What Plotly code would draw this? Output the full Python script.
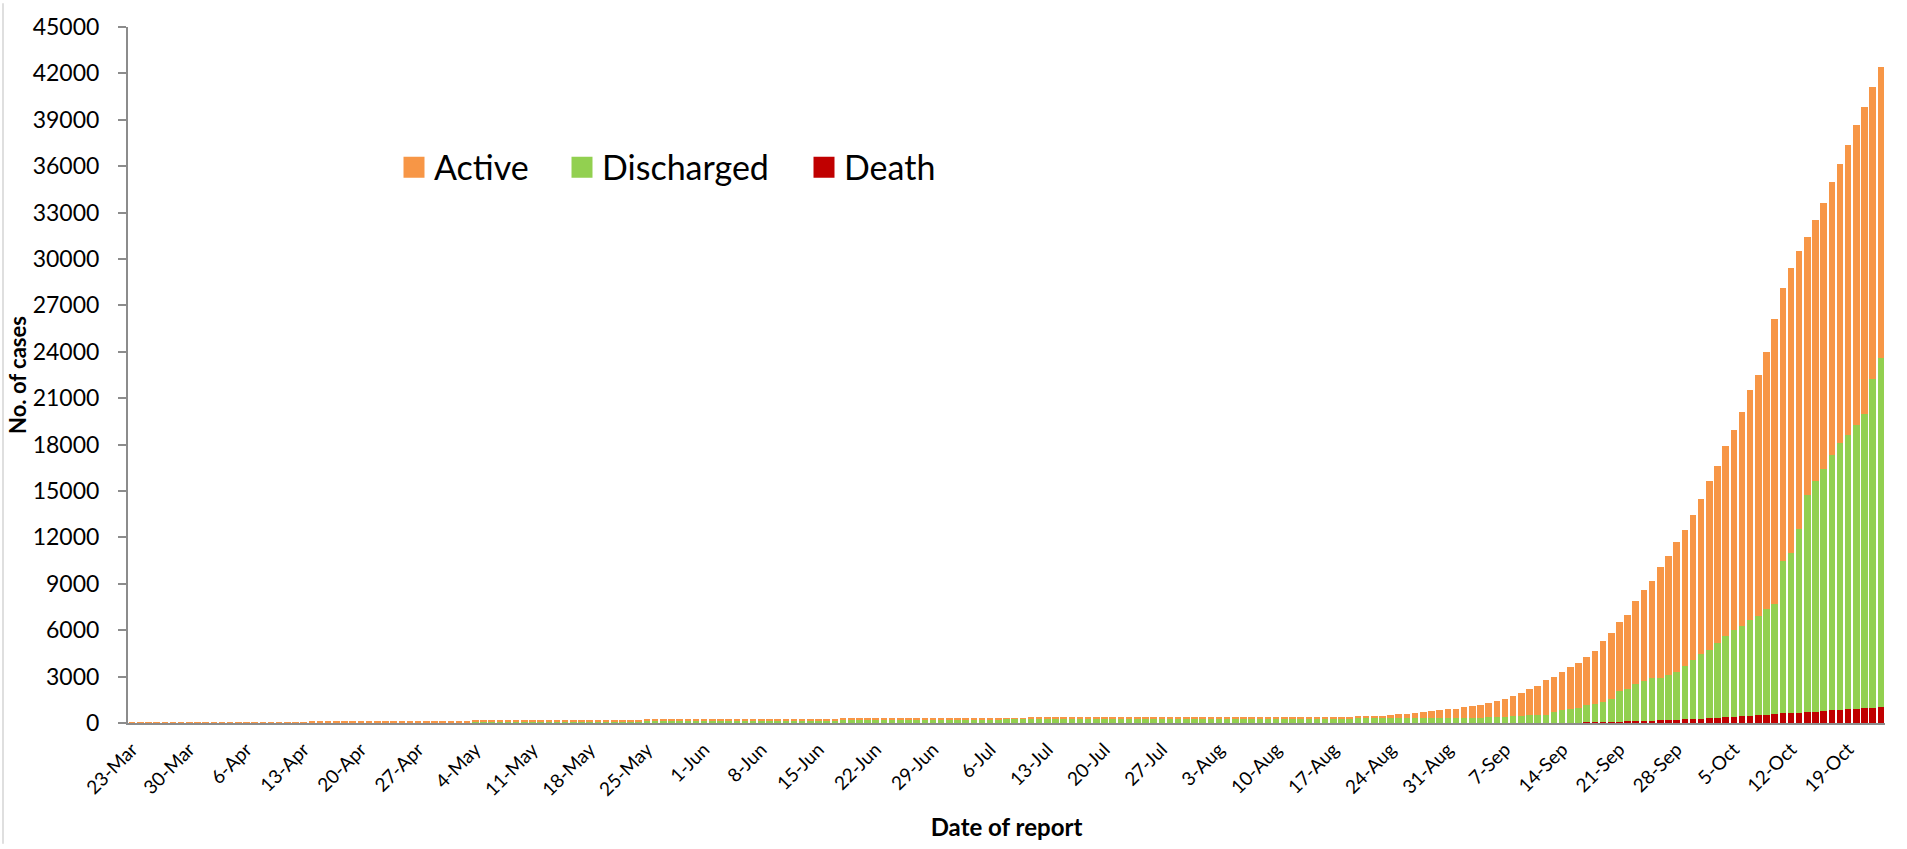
import plotly.graph_objects as go
import pandas as pd

# ---- categories (one bar per day of report) ----
dates = pd.date_range("2020-03-23", "2020-10-23", freq="D")
categories = [f"{d.day}-{d.strftime('%b')}" for d in dates]

tick_labels = ["23-Mar", "30-Mar", "6-Apr", "13-Apr", "20-Apr", "27-Apr", "4-May",
               "11-May", "18-May", "25-May", "1-Jun", "8-Jun", "15-Jun", "22-Jun",
               "29-Jun", "6-Jul", "13-Jul", "20-Jul", "27-Jul", "3-Aug", "10-Aug",
               "17-Aug", "24-Aug", "31-Aug", "7-Sep", "14-Sep", "21-Sep", "28-Sep",
               "5-Oct", "12-Oct", "19-Oct"]

# ---- series values (cases) ----
active = [
    2, 3, 3, 5, 8, 10, 10, 14, 14,
    14, 19, 19, 20, 21, 19, 19, 17, 18, 21, 22, 35, 56, 67, 78, 81, 88, 101, 99, 99,
    107, 106, 112, 121, 122, 122, 119, 119, 115, 108,
    103, 101, 100, 95, 89, 85, 92, 94, 91, 88, 86, 82, 79, 78, 76, 74, 74, 75, 77, 77,
    81, 79, 78, 75, 74, 74, 70, 68, 82, 84, 83,
    81, 84, 85, 82, 84, 86, 86, 84, 84, 84, 91, 87, 83, 81, 78, 74, 71, 67, 72, 82,
    78, 74, 75, 72, 69, 66, 62, 62, 61, 61,
    60, 58, 61, 62, 63, 62, 60, 58, 56, 58, 60, 62, 61, 61, 60, 61, 60, 59, 57, 55,
    54, 53, 51, 51, 50, 51, 52, 51, 51, 52, 51,
    50, 49, 52, 51, 50, 51, 50, 49, 49, 48, 47, 47, 46, 48, 49, 56, 56, 64, 78, 83,
    99, 120, 146, 194, 241, 275, 320, 360, 442, 467, 535,
    552, 654, 716, 799, 922, 1062, 1196, 1347, 1496, 1710, 1902, 2244, 2287, 2470, 2720,
    2930, 3155, 3375, 3954, 4295, 4468, 4782, 5339, 5878, 6302, 7164, 7718, 8416, 8801, 9397,
    10000, 10916, 11455, 12307, 12923, 13813, 14853, 15592, 16658, 18448, 17617, 18419,
    17995, 16726, 16894, 17230, 17658, 18074, 18716, 19415, 19860, 18878, 18832,
]

discharged = [
    0, 0, 0, 0, 0, 0, 0, 0, 0,
    0, 0, 0, 0, 0, 2, 2, 2, 2, 2, 2, 2, 2, 3, 3, 3, 5, 5, 7, 7,
    7, 10, 10, 13, 17, 19, 22, 25, 29, 37,
    42, 48, 55, 60, 66, 70, 73, 76, 80, 84, 88, 92, 96, 98, 100, 102, 104, 106, 108, 110,
    112, 114, 117, 120, 123, 126, 130, 133, 136, 138, 139,
    141, 143, 145, 148, 150, 152, 154, 156, 158, 160, 164, 168, 172, 175, 178, 182, 186,
    190, 194, 198, 203, 207, 210, 214, 218, 221, 225, 228, 232, 236,
    238, 240, 242, 245, 247, 249, 251, 253, 255, 257, 260, 263, 265, 267, 270, 272, 274,
    276, 278, 280, 282, 284, 286, 288, 290, 291, 292, 293, 294, 295, 296,
    297, 298, 299, 300, 301, 302, 303, 304, 305, 306, 307, 308, 309, 310, 311, 312, 313,
    314, 315, 317, 318, 320, 322, 324, 326, 328, 330, 333, 336, 338, 340,
    340, 342, 344, 347, 352, 360, 373, 415, 456, 477, 498, 517, 686, 807, 893,
    938, 1100, 1202, 1291, 1476, 1966, 2117, 2415, 2547, 2724, 2725, 2896, 3094, 3449, 3813,
    4197, 4404, 4847, 5247, 5601, 5832, 6162, 6403, 6807, 7102, 9878, 10366,
    11880, 14024, 14891, 15630, 16497, 17231, 17734, 18325, 19040, 21220, 22560,
]

death = [
    0, 0, 0, 0, 0, 0, 0, 0, 1,
    1, 1, 1, 1, 1, 1, 1, 3, 3, 4, 4, 4, 4, 4, 4, 4, 5, 5, 5, 5,
    5, 5, 5, 5, 5, 5, 5, 6, 6, 6,
    6, 6, 6, 6, 6, 6, 6, 6, 6, 6, 6, 6, 6, 6, 6, 6, 6, 6, 6, 6,
    6, 6, 6, 6, 6, 6, 6, 6, 6, 6, 6,
    6, 6, 6, 6, 6, 6, 6, 6, 6, 6, 6, 6, 6, 6, 6, 6, 6, 6, 6, 6,
    6, 6, 6, 6, 6, 6, 6, 6, 6, 6,
    6, 6, 6, 6, 6, 6, 6, 6, 6, 6, 6, 6, 6, 6, 6, 6, 6, 6, 6, 6,
    6, 6, 6, 6, 6, 6, 6, 6, 6, 6, 6,
    6, 6, 6, 6, 6, 6, 6, 6, 6, 6, 6, 6, 6, 6, 6, 6, 6, 6, 6, 6,
    6, 6, 6, 6, 6, 6, 7, 7, 7, 7, 7,
    8, 8, 8, 8, 8, 10, 12, 12, 14, 14, 15, 17, 19, 23, 27,
    32, 40, 48, 55, 62, 85, 107, 130, 145, 160, 175, 200, 220, 250, 270,
    290, 320, 345, 375, 405, 450, 485, 520, 545, 590, 615, 640,
    665, 700, 730, 780, 830, 865, 900, 925, 960, 1000, 1040,
]

series_names = ["Active", "Discharged", "Death"]
colors = {"Active": "#F79646", "Discharged": "#92D050", "Death": "#C00000"}

W, H = 1907, 849
ML, MR, MT, MB = 128, 22, 24, 122
FONT = "Lato"
pw = W - ML - MR
ph = H - MT - MB

fig = go.Figure()
# stacked bars: Death at bottom, Discharged, Active on top
for name, vals in [("Death", death), ("Discharged", discharged), ("Active", active)]:
    fig.add_trace(go.Bar(x=categories, y=vals, name=name,
                         marker=dict(color=colors[name], line=dict(width=0)),
                         showlegend=False))

# legend entries (square keys)
legend_ids = {"Active": "legend", "Discharged": "legend2", "Death": "legend3"}
for name in series_names:
    fig.add_trace(go.Scatter(x=[None], y=[None], mode="markers", name=name,
                             marker=dict(symbol="square", size=16, color=colors[name],
                                         line=dict(width=5, color=colors[name])),
                             legend=legend_ids[name], showlegend=True))

leg_common = dict(orientation="h", xref="paper", yref="paper",
                  xanchor="left", yanchor="middle", bgcolor="rgba(0,0,0,0)",
                  borderwidth=0,
                  font=dict(family=FONT, size=34, color="black"), itemsizing="trace")
leg_px = {"legend": 394, "legend2": 562, "legend3": 804}
leg_py = 166
leg_y = (H - MB - leg_py) / ph

fig.update_layout(
    width=W, height=H,
    margin=dict(l=ML, r=MR, t=MT, b=MB),
    paper_bgcolor="white", plot_bgcolor="white",
    barmode="stack", bargap=0.2,
    font=dict(family=FONT, color="black"),
    legend=dict(leg_common, x=(leg_px["legend"] - ML) / pw, y=leg_y),
    legend2=dict(leg_common, x=(leg_px["legend2"] - ML) / pw, y=leg_y),
    legend3=dict(leg_common, x=(leg_px["legend3"] - ML) / pw, y=leg_y),
    xaxis=dict(
        type="category", categoryorder="array", categoryarray=categories,
        tickmode="array", tickvals=tick_labels, ticktext=tick_labels,
        tickangle=-45, tickfont=dict(family=FONT, size=19, color="black"),
        ticks="", showline=True, linecolor="#8C8C8C", linewidth=2,
        showgrid=False, zeroline=False, ticklabelstandoff=6,
        title=dict(text="<b>Date of report</b>",
                   font=dict(family=FONT, size=24, color="black"), standoff=20),
    ),
    yaxis=dict(
        range=[0, 45000], dtick=3000, tick0=0, tickformat="d",
        ticks="outside", ticklen=8, tickwidth=2, tickcolor="#8C8C8C",
        showline=True, linecolor="#8C8C8C", linewidth=2,
        tickfont=dict(family=FONT, size=23, color="black"),
        ticklabelstandoff=14, showgrid=False, zeroline=False,
        title=dict(text="<b>No. of cases</b>",
                   font=dict(family=FONT, size=22, color="black"), standoff=0),
    ),
)

# thin chart-area border on the left edge
fig.add_shape(type="line", xref="paper", yref="paper",
              x0=(3 - ML) / pw, x1=(3 - ML) / pw, y0=-MB / ph, y1=(H - MB) / ph,
              line=dict(color="#BFBFBF", width=1))

# remove the browser's default page margin so the chart sits at the window origin
fig.write_html("out.html",
               config={"displayModeBar": False},
               post_script="document.body.style.margin='0px';document.body.style.overflow='hidden';")
